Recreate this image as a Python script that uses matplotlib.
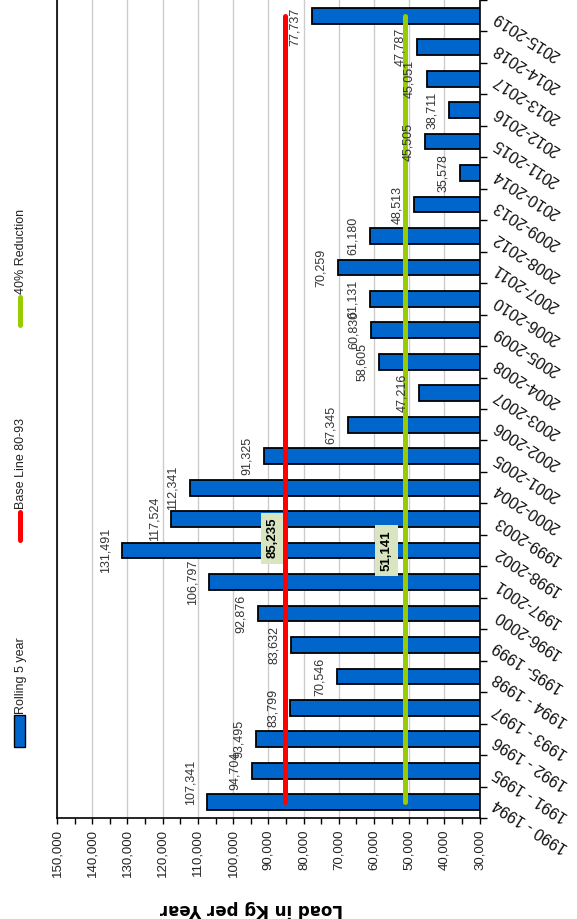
import matplotlib
matplotlib.use('Agg')
import matplotlib.pyplot as plt
from matplotlib.patches import Rectangle
from matplotlib.lines import Line2D
import numpy as np

# Periodos de 5 anios y carga anual (kg) de cada uno
periodos = ['1990 - 1994', '1991 - 1995', '1992 - 1996', '1993 - 1997', '1994 - 1998',
            '1995- 1999', '1996-2000', '1997-2001', '1998-2002', '1999-2003', '2000-2004',
            '2001-2005', '2002-2006', '2003-2007', '2004-2008', '2005-2009', '2006-2010',
            '2007-2011', '2008-2012', '2009-2013', '2010-2014', '2011-2015', '2012-2016',
            '2013-2017', '2014-2018', '2015-2019']
carga = [107341, 94704, 93495, 83799, 70546, 83632, 92876, 106797, 131491, 117524,
         112341, 91325, 67345, 47216, 58605, 60830, 61131, 70259, 61180, 48513,
         35578, 45505, 38711, 45051, 47787, 77737]
linea_base = 85235      # Base Line 80-93
reduccion = 51141       # 40% Reduction
ticks_carga = list(range(30000, 150001, 10000))

AZUL = '#0066cc'
ROJO = '#ff0000'
VERDE = '#99cc00'
LETRA = 'Liberation Sans'

W, H = 577, 919
fig = plt.figure(figsize=(W / 100, H / 100), dpi=100)
ax = fig.add_axes([57 / W, 101 / H, 422.7 / W, 818 / H])

y = np.arange(len(periodos))
base = ticks_carga[0]
ax.barh(y, [c - base for c in carga], left=base, height=0.5, color=AZUL,
        edgecolor='black', linewidth=1.3, zorder=3)

ax.plot([linea_base, linea_base], [y[0], y[-1]], color=ROJO, lw=3.6,
        solid_capstyle='round', zorder=4)
ax.plot([reduccion, reduccion], [y[0], y[-1]], color=VERDE, lw=3.6,
        solid_capstyle='round', zorder=4)

# etiquetas de cada barra (las de los extremos se meten dentro del area)
ultimo = len(carga) - 1
for i, c in enumerate(carga):
    if i == 0:
        va, dy = 'bottom', -2
    elif i == ultimo:
        va, dy = 'top', 6
    else:
        va, dy = 'center', 0
    ax.annotate(f'{c:,}', xy=(c, i), xytext=(-8, dy), textcoords='offset points',
                rotation=90, ha='right', va=va, fontsize=9,
                color='#333333', family=LETRA, zorder=5)

caja = dict(boxstyle='square,pad=0.4', fc='#d9e4c1', ec='none')
ax.annotate(f'{linea_base:,}', xy=(linea_base, 8), xytext=(-5, 9),
            textcoords='offset points', rotation=90, ha='right', va='center',
            fontsize=9.5, fontweight='bold', family=LETRA, bbox=caja, zorder=6)
ax.annotate(f'{reduccion:,}', xy=(reduccion, 8), xytext=(-9, 0),
            textcoords='offset points', rotation=90, ha='right', va='center',
            fontsize=9.5, fontweight='bold', family=LETRA, bbox=caja, zorder=6)

# eje de valores (abajo, invertido)
ax.set_xlim(150000, 30000)
ax.set_xticks(ticks_carga)
ax.set_xticklabels([f'{t:,}' for t in ticks_carga], rotation=90, fontsize=9.5,
                   family=LETRA, color='#222222')
ax.set_xticks(np.arange(35000, 150000, 10000), minor=True)
ax.tick_params(axis='x', which='both', direction='out', length=4, width=1, pad=4)
ax.grid(axis='x', which='major', color='#cccccc', lw=1, zorder=0)

# eje de categorias (a la derecha)
ax.set_ylim(-0.5, len(periodos) - 0.5)
ax.yaxis.tick_right()
ax.set_yticks(np.arange(-0.5, len(periodos), 1))
ax.set_yticklabels([])
ax.set_yticks(y, minor=True)
ax.set_yticklabels(periodos, minor=True, rotation=147, rotation_mode='anchor',
                   ha='right', va='center', fontsize=11.5, family=LETRA,
                   color='#111111')
ax.tick_params(axis='y', which='major', direction='out', length=5, width=1)
ax.tick_params(axis='y', which='minor', length=0, pad=11)

ax.spines['top'].set_visible(False)
for lado in ['left', 'right', 'bottom']:
    ax.spines[lado].set_color('black')
    ax.spines[lado].set_linewidth(1.2)

ax.set_xlabel('Load in Kg per Year', rotation=180, fontsize=12, fontweight='bold',
              va='center')
ax.xaxis.set_label_coords(0.459, -0.111)

# leyenda vertical a la izquierda
def fx(px):
    return px / W

def fy(py):
    return 1 - py / H

fig.add_artist(Rectangle((fx(14), fy(747)), 11 / W, 32 / H, transform=fig.transFigure,
                         fc=AZUL, ec='black', lw=1))
fig.add_artist(Line2D([fx(19.5), fx(19.5)], [fy(540), fy(512)], transform=fig.transFigure,
                      color=ROJO, lw=3.6, solid_capstyle='round'))
fig.add_artist(Line2D([fx(19.5), fx(19.5)], [fy(325), fy(297)], transform=fig.transFigure,
                      color=VERDE, lw=3.6, solid_capstyle='round'))
for texto, py in [('Rolling 5 year', 714), ('Base Line 80-93', 509), ('40% Reduction', 294)]:
    fig.text(fx(21), fy(py), texto, rotation=90, ha='center', va='bottom', fontsize=9,
             family=LETRA, color='#222222')

fig.savefig('out.png', dpi=100)
